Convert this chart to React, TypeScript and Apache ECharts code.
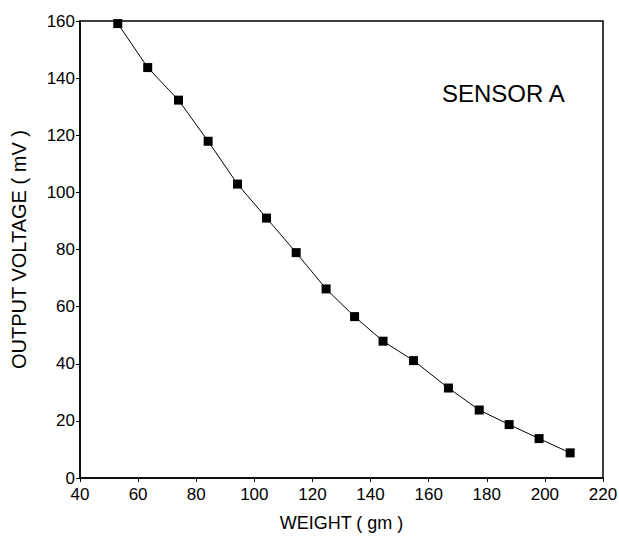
import React, { useEffect, useRef } from "react";
import * as echarts from "echarts";

const weights = [53, 63.3, 73.9, 84.1, 94.2, 104.2, 114.4, 124.7, 134.5, 144.3, 154.8, 166.8, 177.4, 187.7, 198.0, 208.7];
const voltages = [159.1, 143.7, 132.3, 117.9, 102.9, 91.0, 78.9, 66.2, 56.5, 47.9, 41.1, 31.5, 23.8, 18.7, 13.8, 8.8];
const xTitle = "WEIGHT ( gm )";
const yTitle = "OUTPUT VOLTAGE ( mV )";
const label = "SENSOR A";

export default function App() {
  const ref = useRef<HTMLDivElement>(null);
  useEffect(() => {
    if (!ref.current) return;
    const chart = echarts.init(ref.current, null, { renderer: "svg" });
    const font = "Liberation Sans, Arial, sans-serif";
    chart.setOption({
      animation: false,
      backgroundColor: "#fff",
      grid: {
        left: 80, right: 16, top: 21, bottom: 58,
        show: true, borderColor: "#000", borderWidth: 1.5,
        containLabel: false, outerBoundsMode: "none",
      },
      xAxis: {
        type: "value", min: 40, max: 220, interval: 20,
        name: xTitle, nameLocation: "middle", nameGap: 36,
        nameTextStyle: { fontFamily: font, fontSize: 18, color: "#000" },
        axisLine: { show: true, lineStyle: { color: "#000", width: 1.5 } },
        axisTick: { show: true, length: 4, lineStyle: { color: "#000" } },
        axisLabel: { fontFamily: font, fontSize: 17, color: "#000", margin: 8, lineHeight: 17 },
        splitLine: { show: false },
      },
      yAxis: {
        type: "value", min: 0, max: 160, interval: 20,
        name: yTitle, nameLocation: "middle", nameGap: 51, nameRotate: 90,
        nameTextStyle: { fontFamily: font, fontSize: 20, color: "#000" },
        axisLine: { show: true, lineStyle: { color: "#000", width: 1.5 } },
        axisTick: { show: true, length: 4, lineStyle: { color: "#000" } },
        axisLabel: { fontFamily: font, fontSize: 17, color: "#000", margin: 5, lineHeight: 16 },
        splitLine: { show: false },
      },
      graphic: [
        { type: "text", left: 442, top: 81, style: { text: label, fontFamily: font, fontSize: 24, fill: "#000" } },
      ],
      series: [
        {
          type: "line",
          data: weights.map((w, i) => [w, voltages[i]]),
          symbol: "rect", symbolSize: 9,
          itemStyle: { color: "#000" },
          lineStyle: { color: "#000", width: 1 },
        },
      ],
    });
    return () => chart.dispose();
  }, []);
  return <div ref={ref} style={{ position: "absolute", left: 0, top: 0, width: 619, height: 536 }} />;
}
